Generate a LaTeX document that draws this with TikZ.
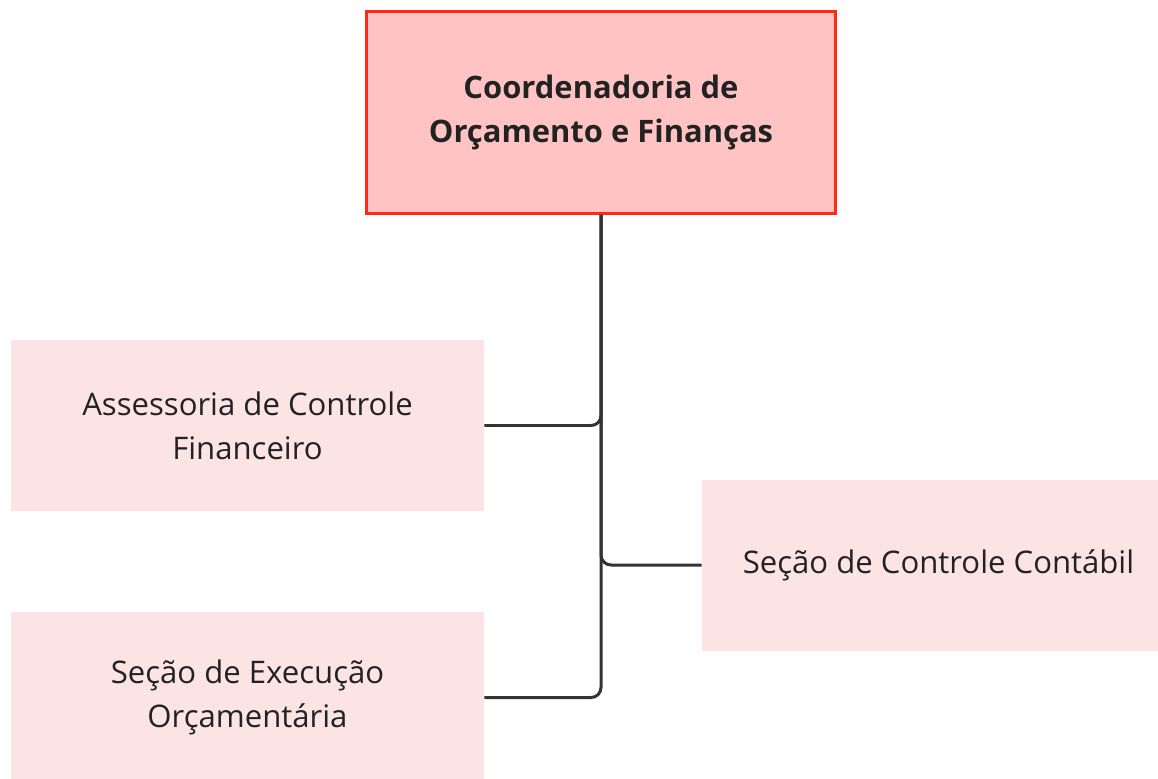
\documentclass[tikz,border=0pt]{standalone}
\usepackage{fontspec}
\setmainfont{Open Sans}
\usetikzlibrary{positioning}
\definecolor{chefefill}{HTML}{FFC3C3}
\definecolor{chefedraw}{HTML}{FF2A12}
\definecolor{unitfill}{HTML}{FDE4E4}
\definecolor{linkcol}{HTML}{333333}
\definecolor{textcol}{HTML}{222222}
\begin{document}
\begin{tikzpicture}
\tikzset{chefe/.style={draw=chefedraw,fill=chefefill,line width=1.7pt,minimum width=9.38cm,minimum height=4.04cm,align=center,font=\fontsize{17.6}{25.5}\selectfont\bfseries,text=textcol},
  unidade/.style={fill=unitfill,minimum width=9.46cm,minimum height=3.42cm,align=center,font=\fontsize{17.7}{25}\selectfont,text=textcol},
  link/.style={draw=linkcol,line width=1.7pt,rounded corners=0.2cm}};
   \useasboundingbox (0,0) rectangle (23.16,-15.56);

   \node[chefe] at (12.02,-2.25) (coord) {Coordenadoria de\\Orçamento e Finanças};
   \node[unidade] at (4.95,-8.51) (assess) {Assessoria de Controle\\Financeiro};
   \node[unidade] at (18.77,-11.3) (contabil) {Seção de Controle Contábil};
   \node[unidade] at (4.95,-13.95) (execucao) {Seção de Execução\\Orçamentária};

   \draw[link] (coord.south) |- (assess.east);
   \draw[link] (coord.south) |- (contabil.west);
   \draw[link] (coord.south) |- (execucao.east);

\end{tikzpicture}
\end{document}
